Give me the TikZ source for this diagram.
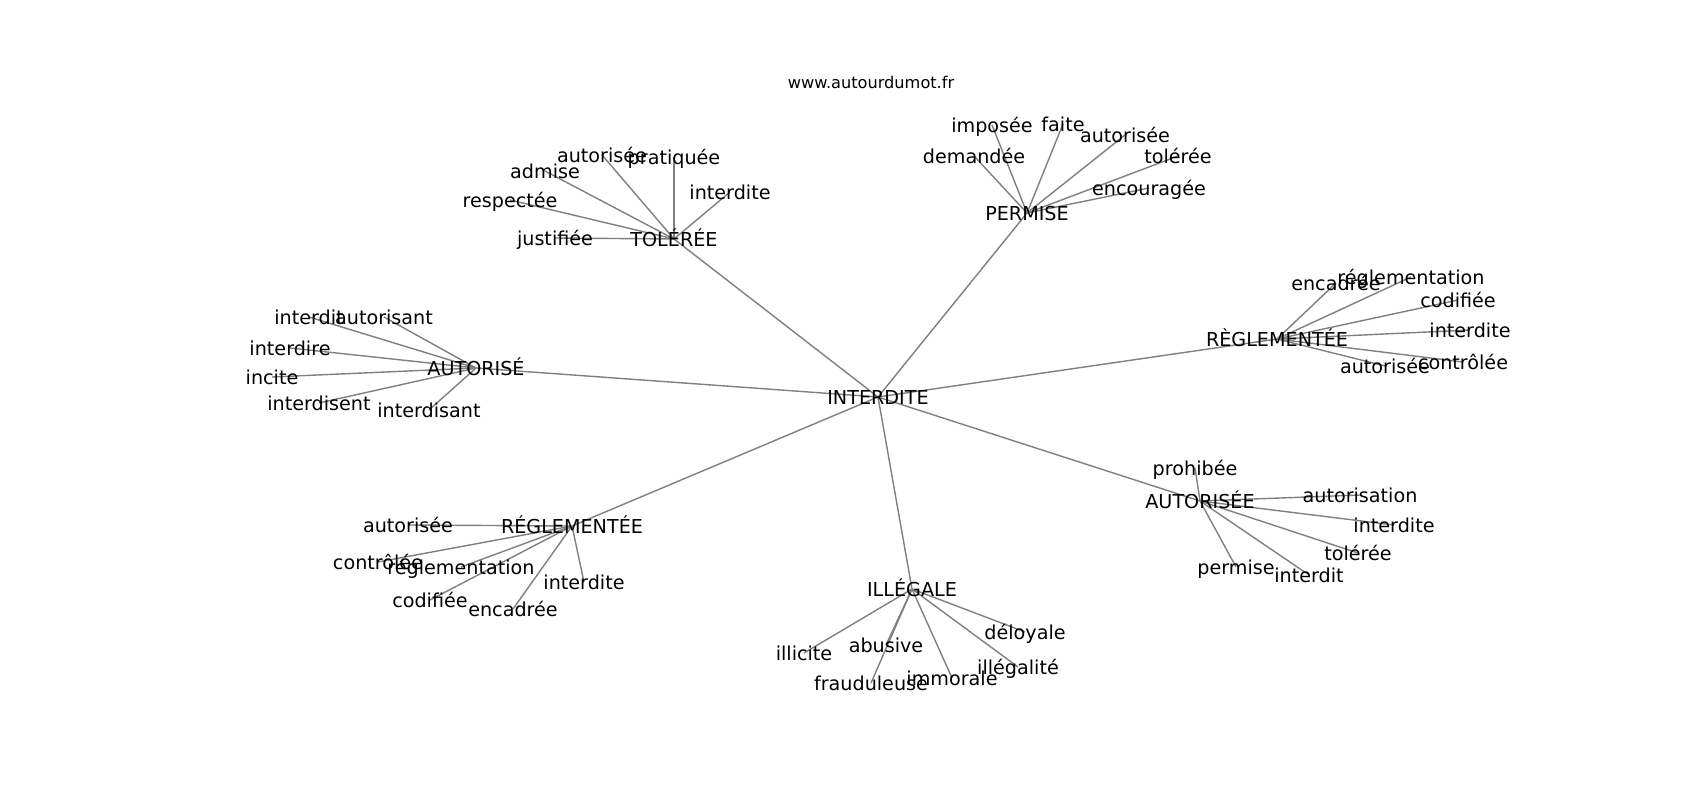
\documentclass[tikz,border=0pt]{standalone}
\usepackage{fontspec}
\setmainfont{DejaVu Sans}
\pgfdeclarelayer{bg}
\pgfsetlayers{bg,main}
\begin{document}
\begin{tikzpicture}[x=0.01cm,y=-0.01cm,
  lbl/.style={inner sep=0pt,outer sep=0pt,font=\fontsize{5.45pt}{6pt}\selectfont,text height=4pt,text depth=0pt,anchor=center},
  ttl/.style={inner sep=0pt,font=\fontsize{4.6pt}{5pt}\selectfont,text height=3.4pt,text depth=0pt},
  edge/.style={draw=black!50,line width=0.4pt}]
\useasboundingbox (0,0) rectangle (1700,800);
\node[ttl] (title) at (871,83) {www.autourdumot.fr};
% hubs
\node[lbl] (c) at (878,397) {INTERDITE};
\node[lbl] (t) at (674,239) {TOLÉRÉE};
\node[lbl] (p) at (1027,213) {PERMISE};
\node[lbl] (a) at (476,368) {AUTORISÉ};
\node[lbl] (r1) at (1277,339) {RÈGLEMENTÉE};
\node[lbl] (r2) at (572,526) {RÉGLEMENTÉE};
\node[lbl] (a2) at (1200,501) {AUTORISÉE};
\node[lbl] (il) at (912,589) {ILLÉGALE};
% TOLÉRÉE
\node[lbl] (t1) at (602,155) {autorisée};
\node[lbl] (t2) at (674,157) {pratiquée};
\node[lbl] (t3) at (545,171) {admise};
\node[lbl] (t4) at (730,192) {interdite};
\node[lbl] (t5) at (510,200) {respectée};
\node[lbl] (t6) at (555,238) {justifiée};
% PERMISE
\node[lbl] (p1) at (992,125) {imposée};
\node[lbl] (p2) at (1063,124) {faite};
\node[lbl] (p3) at (1125,135) {autorisée};
\node[lbl] (p4) at (974,156) {demandée};
\node[lbl] (p5) at (1178,156) {tolérée};
\node[lbl] (p6) at (1149,188) {encouragée};
% AUTORISÉ
\node[lbl] (a11) at (309,317) {interdit};
\node[lbl] (a12) at (384,317) {autorisant};
\node[lbl] (a13) at (290,348) {interdire};
\node[lbl] (a14) at (272,377) {incite};
\node[lbl] (a15) at (319,403) {interdisent};
\node[lbl] (a16) at (429,410) {interdisant};
% RÈGLEMENTÉE
\node[lbl] (r11) at (1336,283) {encadrée};
\node[lbl] (r12) at (1411,277) {réglementation};
\node[lbl] (r13) at (1458,300) {codifiée};
\node[lbl] (r14) at (1470,330) {interdite};
\node[lbl] (r15) at (1463,362) {contrôlée};
\node[lbl] (r16) at (1385,366) {autorisée};
% RÉGLEMENTÉE
\node[lbl] (r21) at (408,525) {autorisée};
\node[lbl] (r22) at (378,562) {contrôlée};
\node[lbl] (r23) at (461,567) {réglementation};
\node[lbl] (r24) at (584,582) {interdite};
\node[lbl] (r25) at (430,600) {codifiée};
\node[lbl] (r26) at (513,609) {encadrée};
% AUTORISÉE
\node[lbl] (a21) at (1195,468) {prohibée};
\node[lbl] (a22) at (1360,495) {autorisation};
\node[lbl] (a23) at (1394,525) {interdite};
\node[lbl] (a24) at (1358,553) {tolérée};
\node[lbl] (a25) at (1236,567) {permise};
\node[lbl] (a26) at (1309,575) {interdit};
% ILLÉGALE
\node[lbl] (i1) at (1025,632) {déloyale};
\node[lbl] (i2) at (804,653) {illicite};
\node[lbl] (i3) at (886,645) {abusive};
\node[lbl] (i4) at (1018,667) {illégalité};
\node[lbl] (i5) at (871,683) {frauduleuse};
\node[lbl] (i6) at (952,678) {immorale};
\begin{pgfonlayer}{bg}
\fill[white] (0,0) rectangle (1700,800);
\foreach \h in {t,p,a,r1,r2,a2,il} \draw[edge] (c.center) -- (\h.center);
\foreach \n in {1,...,6} {
  \draw[edge] (t.center) -- (t\n.center);
  \draw[edge] (p.center) -- (p\n.center);
  \draw[edge] (a.center) -- (a1\n.center);
  \draw[edge] (r1.center) -- (r1\n.center);
  \draw[edge] (r2.center) -- (r2\n.center);
  \draw[edge] (a2.center) -- (a2\n.center);
  \draw[edge] (il.center) -- (i\n.center);
}
\end{pgfonlayer}
\end{tikzpicture}
\end{document}
